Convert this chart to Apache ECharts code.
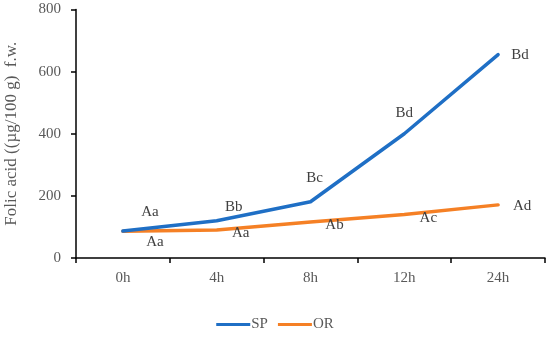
<!DOCTYPE html>
<html>
<head>
<meta charset="utf-8">
<script src="https://cdn.jsdelivr.net/npm/echarts@6/dist/echarts.min.js"></script>
<style>html,body{margin:0;padding:0;background:#fff}#c{width:550px;height:337px}</style>
</head>
<body>
<div id="c"></div>
<script>
var categories = ['0h', '4h', '8h', '12h', '24h'];
var spValues = [87, 120, 181, 400, 655];
var orValues = [86, 90, 116, 140, 171];
var spLabels = ['Aa', 'Bb', 'Bc', 'Bd', 'Bd'];
var orLabels = ['Aa', 'Aa', 'Ab', 'Ac', 'Ad'];
var yTicks = [0, 200, 400, 600, 800];

var spOffsets = [[27, -19], [17, -14], [4, -24], [0, -21], [22, 1]];
var orOffsets = [[32, 11], [24, 3], [24, 3], [24, 4], [24, 1]];

var FONT = '"Liberation Serif", serif';

function mk(vals, labs, offs) {
  return vals.map(function (v, i) {
    return {
      value: v,
      label: {show: true, formatter: labs[i], position: 'inside', offset: offs[i],
              color: '#404040', fontFamily: FONT, fontSize: 15}
    };
  });
}

var chart = echarts.init(document.getElementById('c'), null, {renderer: 'canvas'});
chart.setOption({
  animation: false,
  grid: {left: 76, right: 5, top: 9.5, bottom: 79, containLabel: false, outerBoundsMode: 'none'},
  legend: {
    bottom: 0, left: 'center', itemWidth: 34, itemHeight: 3, itemGap: 10,
    icon: 'rect',
    textStyle: {color: '#595959', fontFamily: FONT, fontSize: 15, padding: [0, 0, 0, -4]},
    data: ['SP', 'OR']
  },
  xAxis: {
    type: 'category', data: categories, boundaryGap: true,
    axisLine: {lineStyle: {color: '#000', width: 1.5}},
    axisTick: {show: true, length: 5, lineStyle: {color: '#000', width: 1.5}},
    axisLabel: {color: '#595959', fontFamily: FONT, fontSize: 15, margin: 13},
    splitLine: {show: false}
  },
  yAxis: {
    type: 'value', min: yTicks[0], max: yTicks[yTicks.length - 1], interval: 200,
    name: 'Folic acid ((\u00b5g/100 g)  f.w.', nameLocation: 'middle', nameGap: 56,
    nameTextStyle: {color: '#595959', fontFamily: FONT, fontSize: 17},
    axisLine: {show: true, lineStyle: {color: '#000', width: 1.5}},
    axisTick: {show: true, length: 5, lineStyle: {color: '#000', width: 1.5}},
    axisLabel: {color: '#595959', fontFamily: FONT, fontSize: 15, margin: 15},
    splitLine: {show: false}
  },
  series: [
    {name: 'SP', type: 'line', data: mk(spValues, spLabels, spOffsets), smooth: false,
     symbol: 'circle', symbolSize: 1, showSymbol: true,
     lineStyle: {color: '#1f6fc5', width: 3.5, join: 'round', cap: 'round'}, itemStyle: {color: '#1f6fc5'}, z: 3},
    {name: 'OR', type: 'line', data: mk(orValues, orLabels, orOffsets), smooth: false,
     symbol: 'circle', symbolSize: 1, showSymbol: true,
     lineStyle: {color: '#f58025', width: 3.5, join: 'round', cap: 'round'}, itemStyle: {color: '#f58025'}, z: 2}
  ]
});
</script>
</body>
</html>
